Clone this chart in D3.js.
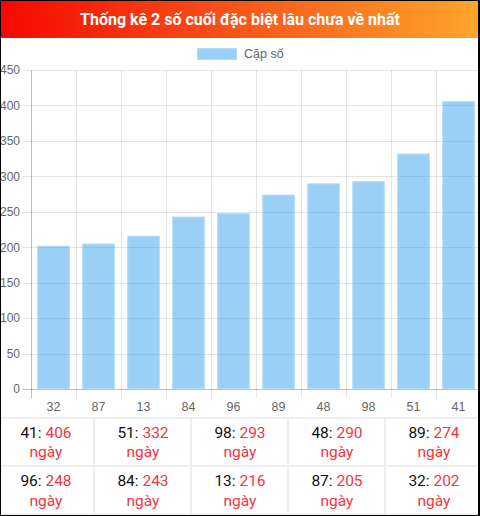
<!DOCTYPE html>
<html><head><meta charset="utf-8">
<script src="https://cdn.jsdelivr.net/npm/d3@7/dist/d3.min.js"></script>
<style>
html,body{margin:0;padding:0;background:#fff;}
svg{display:block;}
</style></head>
<body>
<svg id="c" width="480" height="516"></svg>
<script>
const title = "Thống kê 2 số cuối đặc biệt lâu chưa về nhất";
const legendLabel = "Cặp số";
const categories = ["32","87","13","84","96","89","48","98","51","41"];
const values = [202,205,216,243,248,274,290,293,332,406];
const yTicks = [0,50,100,150,200,250,300,350,400,450];
const tableNums = ["41","51","98","48","89","96","84","13","87","32"];
const tableDays = [406,332,293,290,274,248,243,216,205,202];
const dayWord = "ngày";

const svg = d3.select("#c");
const defs = svg.append("defs");
const g = defs.append("linearGradient").attr("id","hdr").attr("x1","0").attr("x2","1").attr("y1","0").attr("y2","0");
g.append("stop").attr("offset","0").attr("stop-color","#f40800");
g.append("stop").attr("offset","0.5").attr("stop-color","#f8561a");
g.append("stop").attr("offset","1").attr("stop-color","#ffa62a");
defs.append("clipPath").attr("id","clip").append("rect").attr("x",1).attr("y",38).attr("width",477).attr("height",380);

// header
svg.append("rect").attr("x",0).attr("y",0).attr("width",480).attr("height",38).attr("fill","url(#hdr)");
svg.append("text").attr("x",240).attr("y",24.5).attr("text-anchor","middle")
  .attr("font-family","Roboto").attr("font-weight","bold").attr("font-size",16).attr("fill","#fff").text(title);

// legend
svg.append("rect").attr("x",197.5).attr("y",48.5).attr("width",39).attr("height",11)
  .attr("fill","rgba(54,162,235,0.5)").attr("stroke","rgba(154,208,245,0.6)");
svg.append("text").attr("x",244).attr("y",57.5).attr("font-family","Liberation Sans, Arial").attr("font-size",12.5).attr("fill","#666").text(legendLabel);

const y = d3.scaleLinear().domain([0,450]).range([389,70]);
const x = d3.scaleBand().domain(categories).range([31,481]).paddingInner(0).paddingOuter(0);

const chart = svg.append("g").attr("clip-path","url(#clip)");
// horizontal grid
chart.selectAll("line.hg").data(yTicks).join("line")
  .attr("x1",22).attr("x2",481).attr("y1",d=>Math.round(y(d))+0.5).attr("y2",d=>Math.round(y(d))+0.5)
  .attr("stroke",d=>d===0?"rgba(0,0,0,0.25)":"rgba(0,0,0,0.1)");
// vertical grid
const bounds = categories.map(c=>x(c)).concat([x(categories[categories.length-1])+x.bandwidth()]);
chart.selectAll("line.vg").data(bounds).join("line")
  .attr("x1",d=>Math.round(d)+0.5).attr("x2",d=>Math.round(d)+0.5).attr("y1",70).attr("y2",398)
  .attr("stroke",(d,i)=>i===0?"rgba(0,0,0,0.25)":"rgba(0,0,0,0.1)");
// bars
const bw = x.bandwidth()*0.72;
chart.selectAll("rect.bar").data(values).join("rect")
  .attr("x",(d,i)=>x(categories[i])+(x.bandwidth()-bw)/2)
  .attr("y",d=>y(d)).attr("width",bw).attr("height",d=>y(0)-y(d))
  .attr("fill","rgba(54,162,235,0.5)");
chart.selectAll("rect.bo").data(values).join("rect")
  .attr("x",(d,i)=>x(categories[i])+(x.bandwidth()-bw)/2+0.5)
  .attr("y",d=>y(d)+0.5).attr("width",bw-1).attr("height",d=>y(0)-y(d)-1)
  .attr("fill","none").attr("stroke","rgba(200,230,250,0.5)");
// y labels
svg.selectAll("text.yl").data(yTicks).join("text")
  .attr("x",20).attr("y",d=>y(d)+4.3).attr("text-anchor","end")
  .attr("font-family","Liberation Sans, Arial").attr("font-size",12).attr("fill","#666").text(d=>d);
// x labels
chart.selectAll("text.xl").data(categories).join("text")
  .attr("x",d=>x(d)+x.bandwidth()/2).attr("y",411).attr("text-anchor","middle")
  .attr("font-family","Liberation Sans, Arial").attr("font-size",12.5).attr("fill","#666").text(d=>d);

// table
const cellW = 97, left0 = -3, rowTop = [418, 466.5];
const tbl = svg.append("g");
tbl.selectAll("line.rh").data([418, 466, 514.5]).join("line")
  .attr("x1",0).attr("x2",480).attr("y1",d=>d).attr("y2",d=>d).attr("stroke","#eeeeee").attr("stroke-width",2);
[0,1,2,3].forEach(i=>{
  tbl.append("line").attr("x1",left0+cellW*(i+1)).attr("x2",left0+cellW*(i+1)).attr("y1",418).attr("y2",515)
    .attr("stroke","#eeeeee").attr("stroke-width",2);
});
tableNums.forEach((n,i)=>{
  const col = i%5, row = Math.floor(i/5);
  const cx = left0 + cellW*col + cellW/2 + 0.5;
  const by = rowTop[row];
  const t = tbl.append("text").attr("x",cx).attr("y",by+19.7).attr("text-anchor","middle")
    .attr("font-family","Roboto").attr("font-size",15.5);
  t.append("tspan").attr("fill","#111").text(n+": ");
  t.append("tspan").attr("fill","#ee3743").text(tableDays[i]);
  tbl.append("text").attr("x",cx).attr("y",by+39).attr("text-anchor","middle")
    .attr("font-family","Roboto").attr("font-size",15.5).attr("fill","#ee3743").text(dayWord);
});

// outer border
svg.append("rect").attr("x",0.5).attr("y",0.5).attr("width",478).attr("height",515).attr("fill","none").attr("stroke","#000");
svg.append("line").attr("x1",479.5).attr("x2",479.5).attr("y1",0).attr("y2",516).attr("stroke","#000");
</script>
</body></html>
